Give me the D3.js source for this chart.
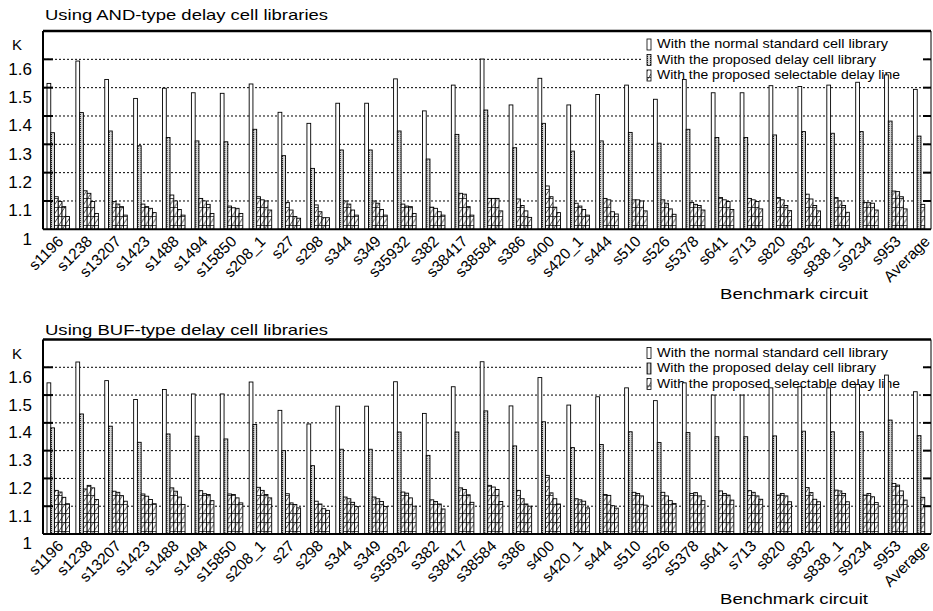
<!DOCTYPE html>
<html>
<head>
<meta charset="utf-8">
<script src="https://cdn.jsdelivr.net/npm/d3@7"></script>
<style>
  body { margin: 0; background: #fff; }
  text { font-family: 'Liberation Sans', Arial, sans-serif; fill: #000; }
</style>
</head>
<body>
<div id="chart"></div>
<script>
var circuits = ['s1196', 's1238', 's13207', 's1423', 's1488', 's1494', 's15850', 's208_1', 's27', 's298',
  's344', 's349', 's35932', 's382', 's38417', 's38584', 's386', 's400', 's420_1', 's444',
  's510', 's526', 's5378', 's641', 's713', 's820', 's832', 's838_1', 's9234', 's953', 'Average'];

var yTicks = [1, 1.1, 1.2, 1.3, 1.4, 1.5, 1.6];
var yTickLabels = ['1', '1.1', '1.2', '1.3', '1.4', '1.5', '1.6'];
var gridValues = [1.1, 1.2, 1.3, 1.4, 1.5, 1.6];

var legendLabels = ['With the normal standard cell library',
  'With the proposed delay cell library',
  'With the proposed selectable delay line'];

// AND-type panel
var andNormal = [1.515, 1.594, 1.529, 1.462, 1.498, 1.482, 1.48, 1.513, 1.413, 1.374,
  1.445, 1.445, 1.531, 1.418, 1.509, 1.601, 1.439, 1.533, 1.439, 1.476,
  1.509, 1.459, 1.529, 1.482, 1.482, 1.507, 1.504, 1.509, 1.519, 1.545, 1.494];
var andProposed = [1.341, 1.412, 1.347, 1.295, 1.324, 1.312, 1.309, 1.353, 1.26, 1.215,
  1.28, 1.28, 1.347, 1.248, 1.335, 1.421, 1.288, 1.374, 1.276, 1.312,
  1.342, 1.304, 1.353, 1.324, 1.324, 1.333, 1.345, 1.339, 1.345, 1.382, 1.329];
var andSelectable = [
  [1.115, 1.098, 1.08, 1.045], [1.136, 1.127, 1.098, 1.056], [1.098, 1.089, 1.08, 1.05],
  [1.089, 1.08, 1.074, 1.059], [1.121, 1.10, 1.07, 1.05], [1.109, 1.10, 1.088, 1.056],
  [1.082, 1.076, 1.074, 1.056], [1.115, 1.104, 1.10, 1.068], [1.095, 1.068, 1.045, 1.039],
  [1.086, 1.062, 1.041, 1.041], [1.10, 1.089, 1.068, 1.05], [1.10, 1.092, 1.07, 1.05],
  [1.089, 1.082, 1.08, 1.056], [1.078, 1.074, 1.062, 1.05], [1.127, 1.124, 1.08, 1.05],
  [1.109, 1.109, 1.109, 1.065], [1.107, 1.084, 1.065, 1.042], [1.153, 1.115, 1.078, 1.059],
  [1.092, 1.082, 1.07, 1.05], [1.109, 1.104, 1.062, 1.054], [1.104, 1.104, 1.10, 1.065],
  [1.104, 1.092, 1.072, 1.053], [1.095, 1.088, 1.084, 1.068], [1.112, 1.104, 1.098, 1.07],
  [1.109, 1.104, 1.098, 1.072], [1.112, 1.104, 1.084, 1.066], [1.124, 1.107, 1.084, 1.065],
  [1.112, 1.10, 1.084, 1.06], [1.095, 1.094, 1.092, 1.068], [1.135, 1.133, 1.115, 1.072],
  [1.088]];

// BUF-type panel
var bufNormal = [1.544, 1.619, 1.552, 1.484, 1.52, 1.504, 1.504, 1.547, 1.445, 1.396,
  1.46, 1.46, 1.548, 1.434, 1.53, 1.62, 1.461, 1.563, 1.464, 1.494,
  1.526, 1.48, 1.544, 1.50, 1.50, 1.526, 1.53, 1.526, 1.538, 1.572, 1.512];
var bufProposed = [1.382, 1.432, 1.388, 1.33, 1.36, 1.352, 1.342, 1.394, 1.30, 1.246,
  1.305, 1.305, 1.367, 1.283, 1.367, 1.443, 1.317, 1.404, 1.311, 1.322,
  1.368, 1.329, 1.365, 1.35, 1.35, 1.353, 1.37, 1.368, 1.368, 1.41, 1.354];
var bufSelectable = [
  [1.157, 1.151, 1.132, 1.109], [1.162, 1.175, 1.166, 1.124], [1.154, 1.15, 1.138, 1.118],
  [1.144, 1.136, 1.124, 1.109], [1.166, 1.154, 1.133, 1.106], [1.156, 1.145, 1.142, 1.12],
  [1.144, 1.142, 1.13, 1.112], [1.168, 1.157, 1.142, 1.13], [1.145, 1.112, 1.106, 1.094],
  [1.118, 1.108, 1.091, 1.085], [1.133, 1.127, 1.114, 1.099], [1.133, 1.127, 1.117, 1.099],
  [1.151, 1.147, 1.13, 1.10], [1.123, 1.117, 1.108, 1.09], [1.166, 1.16, 1.141, 1.114],
  [1.175, 1.169, 1.16, 1.117], [1.157, 1.127, 1.108, 1.10], [1.211, 1.148, 1.127, 1.108],
  [1.127, 1.123, 1.118, 1.094], [1.142, 1.139, 1.102, 1.093], [1.15, 1.146, 1.137, 1.104],
  [1.15, 1.137, 1.12, 1.11], [1.146, 1.149, 1.137, 1.12], [1.155, 1.146, 1.14, 1.122],
  [1.156, 1.15, 1.137, 1.125], [1.14, 1.146, 1.137, 1.116], [1.167, 1.149, 1.125, 1.116],
  [1.158, 1.155, 1.146, 1.116], [1.14, 1.146, 1.134, 1.113], [1.182, 1.176, 1.155, 1.122],
  [1.132]];

var w = 933, h = 611;
var left = 43, right = 931;

var svg = d3.select('#chart').append('svg')
  .attr('width', w)
  .attr('height', h);

var defs = svg.append('defs');

var dots = defs.append('pattern')
  .attr('id', 'dots')
  .attr('patternUnits', 'userSpaceOnUse')
  .attr('width', 3).attr('height', 2);
dots.append('rect').attr('width', 3).attr('height', 2).attr('fill', '#d8d8d8');
dots.append('rect').attr('x', 1).attr('width', 1).attr('height', 1).attr('fill', '#222');

var hatch = defs.append('pattern')
  .attr('id', 'hatch')
  .attr('patternUnits', 'userSpaceOnUse')
  .attr('width', 6).attr('height', 9);
hatch.append('rect').attr('width', 6).attr('height', 9).attr('fill', '#fff');
hatch.append('path').attr('d', 'M0,0.5H6M0,9L6,0')
  .attr('stroke', '#000').attr('stroke-width', 0.7).attr('fill', 'none');

var fills = ['#fff', 'url(#dots)', 'url(#hatch)'];

function drawPanel(p) {
  var g = svg.append('g');

  var y = d3.scaleLinear().domain([1, 1.7]).range([p.bottom, p.top]);
  var x0 = d3.scaleBand().domain(circuits).range([47, 936]).paddingInner(0.22);
  var x1 = d3.scaleBand().domain(d3.range(6)).range([0, x0.bandwidth()]);

  g.append('text')
    .attr('x', 45)
    .attr('y', p.titleY)
    .attr('font-size', 15)
    .attr('textLength', 283)
    .attr('lengthAdjust', 'spacingAndGlyphs')
    .text(p.title);

  // dotted grid
  g.selectAll('.grid').data(gridValues).enter().append('line')
    .attr('x1', left).attr('x2', right)
    .attr('y1', function(d) { return y(d); })
    .attr('y2', function(d) { return y(d); })
    .attr('stroke', '#000')
    .attr('stroke-width', 1)
    .attr('stroke-dasharray', '2,2');

  // legend sits over the grid but under the bars
  var lg = g.append('g').attr('transform', 'translate(643,' + (p.top + 1) + ')');
  lg.append('rect').attr('width', 282).attr('height', 51).attr('fill', '#fff');
  legendLabels.forEach(function(t, i) {
    lg.append('rect')
      .attr('x', 4).attr('y', 7 + i * 15.5)
      .attr('width', 4).attr('height', 11)
      .attr('fill', fills[i])
      .attr('stroke', '#000').attr('stroke-width', 0.8);
    lg.append('text')
      .attr('x', 14).attr('y', 16 + i * 15.5)
      .attr('font-size', 13.5)
      .attr('textLength', [231, 219, 243][i])
      .attr('lengthAdjust', 'spacingAndGlyphs')
      .text(t);
  });

  var groups = g.selectAll('.grp').data(circuits).enter().append('g')
    .attr('transform', function(d) { return 'translate(' + x0(d) + ',0)'; });

  groups.selectAll('rect')
    .data(function(d, i) {
      var vals = [p.normal[i], p.proposed[i]].concat(p.selectable[i]);
      return vals.map(function(v, j) { return { v: v, j: j }; });
    })
    .enter().append('rect')
    .attr('x', function(d) { return x1(d.j); })
    .attr('y', function(d) { return y(d.v); })
    .attr('width', x1.bandwidth())
    .attr('height', function(d) { return p.bottom - y(d.v); })
    .attr('fill', function(d) { return fills[Math.min(d.j, 2)]; })
    .attr('stroke', '#000')
    .attr('stroke-width', 0.9);

  // frame and ticks
  g.append('line').attr('x1', left).attr('x2', right).attr('y1', p.top).attr('y2', p.top)
    .attr('stroke', '#000').attr('stroke-width', 2.5);
  g.append('line').attr('x1', left).attr('x2', right).attr('y1', p.bottom).attr('y2', p.bottom)
    .attr('stroke', '#000').attr('stroke-width', 2);
  g.append('line').attr('x1', left).attr('x2', left).attr('y1', p.top).attr('y2', p.bottom)
    .attr('stroke', '#000').attr('stroke-width', 2);
  g.append('line').attr('x1', right).attr('x2', right).attr('y1', p.top).attr('y2', p.bottom)
    .attr('stroke', '#000').attr('stroke-width', 1);

  g.selectAll('.ltick').data(gridValues).enter().append('line')
    .attr('x1', left).attr('x2', left + 10)
    .attr('y1', function(d) { return y(d); })
    .attr('y2', function(d) { return y(d); })
    .attr('stroke', '#000').attr('stroke-width', 2);
  g.selectAll('.rtick').data(gridValues).enter().append('line')
    .attr('x1', right - 8).attr('x2', right)
    .attr('y1', function(d) { return y(d); })
    .attr('y2', function(d) { return y(d); })
    .attr('stroke', '#000').attr('stroke-width', 2);

  g.selectAll('.ylab').data(yTicks).enter().append('text')
    .attr('x', 32)
    .attr('y', function(d) { return y(d) + 11; })
    .attr('dominant-baseline', 'middle')
    .attr('text-anchor', 'end')
    .attr('font-size', 17)
    .text(function(d, i) { return yTickLabels[i]; });

  g.append('text')
    .attr('x', 12).attr('y', p.top + 19)
    .attr('font-size', 15)
    .text('K');

  g.selectAll('.xlab').data(circuits).enter().append('text')
    .attr('transform', function(d) {
      return 'translate(' + (x0(d) + x0.bandwidth() / 2 + 6) + ',' + (p.bottom + 13) + ') rotate(-45)';
    })
    .attr('text-anchor', 'end')
    .attr('font-size', 15.5)
    .text(function(d) { return d; });

  g.append('text')
    .attr('x', 720).attr('y', p.bottom + 70)
    .attr('font-size', 15)
    .attr('textLength', 148)
    .attr('lengthAdjust', 'spacingAndGlyphs')
    .text('Benchmark circuit');
}

drawPanel({
  title: 'Using AND-type delay cell libraries', titleY: 20,
  top: 31, bottom: 229.3,
  normal: andNormal, proposed: andProposed, selectable: andSelectable
});

drawPanel({
  title: 'Using BUF-type delay cell libraries', titleY: 335,
  top: 339.5, bottom: 534,
  normal: bufNormal, proposed: bufProposed, selectable: bufSelectable
});
</script>
</body>
</html>
